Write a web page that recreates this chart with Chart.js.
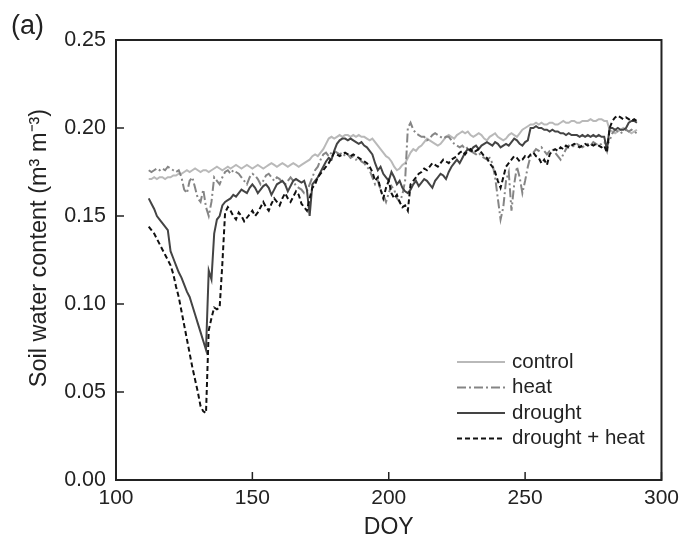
<!DOCTYPE html>
<html>
<head>
<meta charset="utf-8">
<script src="https://cdn.jsdelivr.net/npm/chart.js@4"></script>
<style>
  html, body { margin: 0; padding: 0; background: #fff; }
  #wrap { width: 685px; height: 555px; }
</style>
</head>
<body>
<div id="wrap"><canvas id="swc"></canvas></div>
<script>
// soil water content, one value per day starting at DOY 112
var firstDoy = 112;

var control = [
  .171,.171,.172,.171,.172,.172,.171,.172,.172,.173,
  .173,.174,.174,.175,.176,.175,.176,.177,.176,.175,
  .176,.176,.175,.176,.177,.178,.177,.176,.177,.178,
  .177,.178,.179,.178,.177,.178,.179,.178,.177,.178,
  .179,.178,.177,.178,.179,.180,.179,.178,.179,.180,
  .179,.178,.179,.180,.179,.178,.179,.180,.181,.182,
  .184,.185,.184,.186,.188,.191,.194,.195,.194,.195,
  .196,.195,.196,.196,.195,.196,.195,.196,.195,.195,
  .194,.193,.194,.192,.190,.188,.186,.184,.183,.181,
  .178,.176,.177,.179,.180,.183,.186,.188,.187,.189,
  .190,.192,.194,.193,.192,.191,.190,.191,.193,.195,
  .196,.195,.194,.196,.197,.198,.197,.198,.196,.195,
  .196,.197,.196,.194,.193,.195,.196,.197,.195,.194,
  .193,.194,.196,.197,.196,.195,.197,.199,.200,.201,
  .202,.202,.203,.202,.203,.202,.202,.203,.203,.202,
  .202,.203,.204,.203,.203,.204,.204,.203,.203,.204,
  .204,.204,.205,.204,.204,.205,.205,.204,.204,.199,
  .198,.197,.198,.199,.200,.199,.198,.197,.198,.199
];

var heat = [
  .176,.175,.176,.177,.176,.177,.176,.178,.177,.176,
  .175,.176,.172,.165,.163,.170,.172,.166,.160,.158,
  .165,.155,.150,.158,.172,.170,.168,.172,.175,.176,
  .174,.176,.175,.174,.172,.170,.168,.172,.174,.173,
  .171,.168,.170,.173,.174,.172,.170,.172,.171,.169,
  .168,.170,.172,.170,.167,.166,.165,.163,.164,.168,
  .172,.176,.178,.182,.185,.186,.184,.186,.187,.186,
  .185,.186,.184,.185,.183,.184,.182,.183,.181,.180,
  .178,.176,.172,.168,.170,.165,.162,.158,.163,.167,
  .165,.160,.158,.162,.170,.200,.203,.199,.197,.196,
  .195,.195,.193,.194,.196,.197,.196,.195,.194,.195,
  .195,.193,.191,.190,.189,.190,.188,.189,.187,.186,
  .185,.186,.184,.183,.182,.183,.180,.172,.160,.148,
  .155,.170,.175,.153,.168,.178,.172,.163,.170,.178,
  .184,.186,.188,.187,.189,.187,.185,.187,.188,.186,
  .184,.182,.185,.188,.190,.189,.190,.191,.190,.189,
  .190,.191,.190,.192,.191,.190,.191,.192,.190,.193,
  .197,.199,.198,.197,.198,.199,.198,.199,.198,.197
];

var drought = [
  .160,.157,.154,.150,.148,.146,.144,.142,.130,.126,
  .122,.118,.115,.111,.107,.104,.099,.094,.089,.084,
  .079,.074,.119,.114,.140,.148,.150,.156,.158,.159,
  .160,.162,.161,.163,.165,.164,.163,.166,.168,.166,
  .163,.165,.167,.168,.166,.162,.165,.168,.169,.170,
  .168,.164,.167,.170,.171,.170,.169,.170,.165,.150,
  .168,.170,.172,.175,.178,.181,.183,.182,.187,.191,
  .193,.194,.194,.193,.194,.193,.192,.191,.192,.190,
  .189,.187,.185,.180,.176,.178,.174,.172,.170,.175,
  .172,.168,.170,.166,.164,.163,.165,.168,.170,.167,
  .169,.171,.170,.168,.166,.170,.172,.174,.173,.171,
  .175,.178,.180,.182,.180,.183,.186,.188,.187,.189,
  .190,.188,.190,.191,.192,.191,.190,.192,.191,.189,
  .190,.191,.190,.192,.194,.193,.191,.190,.192,.193,
  .200,.200,.201,.200,.200,.199,.199,.198,.199,.198,
  .198,.197,.197,.196,.197,.196,.196,.196,.195,.196,
  .195,.196,.195,.196,.195,.196,.195,.195,.188,.200,
  .200,.199,.200,.199,.199,.200,.203,.204,.204,.203
];

var droughtHeat = [
  .144,.142,.140,.137,.134,.131,.128,.125,.122,.117,
  .110,.104,.096,.088,.080,.072,.064,.057,.050,.042,
  .039,.038,.085,.092,.098,.097,.098,.123,.152,.155,
  .153,.150,.148,.152,.150,.147,.149,.151,.153,.150,
  .152,.155,.158,.155,.153,.157,.160,.158,.156,.160,
  .163,.160,.158,.161,.164,.162,.157,.155,.153,.160,
  .166,.168,.172,.174,.176,.178,.180,.183,.186,.185,
  .184,.185,.186,.185,.184,.185,.184,.183,.182,.181,
  .180,.178,.175,.170,.172,.165,.160,.166,.170,.163,
  .160,.162,.158,.155,.156,.153,.168,.170,.172,.174,
  .175,.177,.176,.178,.180,.179,.178,.180,.182,.181,
  .180,.182,.183,.184,.186,.187,.185,.187,.188,.186,
  .187,.188,.186,.184,.183,.180,.178,.175,.170,.166,
  .172,.178,.180,.182,.184,.183,.181,.182,.184,.183,
  .185,.186,.184,.183,.180,.182,.179,.185,.187,.188,
  .187,.189,.188,.190,.189,.190,.191,.190,.189,.190,
  .191,.190,.191,.190,.191,.190,.189,.190,.186,.200,
  .204,.206,.207,.206,.205,.206,.205,.204,.205,.204
];

var xTicks = [100, 150, 200, 250, 300];
var yTicks = [0, 0.05, 0.10, 0.15, 0.20, 0.25];

function toPoints(arr) {
    return arr.map(function (v, i) { return { x: firstDoy + i, y: v }; });
}

var FONT = "'Liberation Sans', Arial, sans-serif";

// frame, inward ticks, axis titles, panel label and legend
var decorations = {
    id: 'decorations',
    afterDatasetsDraw: function (chart) {
        var ctx = chart.ctx;
        var a = chart.chartArea;
        var sx = chart.scales.x, sy = chart.scales.y;
        ctx.save();
        ctx.strokeStyle = '#222';
        ctx.lineWidth = 2;
        ctx.strokeRect(a.left, a.top, a.right - a.left, a.bottom - a.top);
        ctx.lineWidth = 1.5;
        ctx.beginPath();
        xTicks.forEach(function (t) {
            var px = sx.getPixelForValue(t);
            ctx.moveTo(px, a.bottom);
            ctx.lineTo(px, a.bottom - 8);
        });
        yTicks.forEach(function (t) {
            var py = sy.getPixelForValue(t);
            ctx.moveTo(a.left, py);
            ctx.lineTo(a.left + 8, py);
        });
        ctx.stroke();

        ctx.fillStyle = '#222';
        ctx.font = '23px ' + FONT;
        ctx.textAlign = 'center';
        ctx.textBaseline = 'alphabetic';
        ctx.fillText('DOY', (a.left + a.right) / 2, 534);

        ctx.save();
        ctx.translate(46, 248);
        ctx.rotate(-Math.PI / 2);
        ctx.font = '23.5px ' + FONT;
        ctx.fillText('Soil water content (m\u00B3 m\u207B\u00B3)', 0, 0);
        ctx.restore();

        ctx.font = '27px ' + FONT;
        ctx.textAlign = 'left';
        ctx.fillText('(a)', 11, 34);

        // legend
        ctx.font = '20.5px ' + FONT;
        ctx.textBaseline = 'middle';
        var rowY = 362;
        chart.data.datasets.forEach(function (ds) {
            ctx.beginPath();
            ctx.strokeStyle = ds.borderColor;
            ctx.lineWidth = ds.borderWidth;
            ctx.setLineDash(ds.borderDash || []);
            ctx.moveTo(457, rowY);
            ctx.lineTo(505, rowY);
            ctx.stroke();
            ctx.setLineDash([]);
            ctx.fillStyle = '#222';
            ctx.fillText(ds.label, 512, rowY);
            rowY += 25.5;
        });
        ctx.restore();
    }
};

var chart = new Chart(document.getElementById('swc'), {
    type: 'line',
    data: {
        datasets: [
            { label: 'control', data: toPoints(control), borderColor: '#b9b9b9', borderWidth: 2, order: 3 },
            { label: 'heat', data: toPoints(heat), borderColor: '#858585', borderWidth: 2, borderDash: [9, 3, 2, 3], order: 2 },
            { label: 'drought', data: toPoints(drought), borderColor: '#444444', borderWidth: 2, order: 1 },
            { label: 'drought + heat', data: toPoints(droughtHeat), borderColor: '#111111', borderWidth: 2, borderDash: [5, 3], order: 0 }
        ]
    },
    options: {
        responsive: true,
        maintainAspectRatio: false,
        animation: false,
        elements: { point: { radius: 0 }, line: { tension: 0 } },
        layout: { padding: { top: 40, right: 19, left: 0, bottom: 0 } },
        plugins: { legend: { display: false }, tooltip: { enabled: false } },
        scales: {
            x: {
                type: 'linear', min: 100, max: 300,
                afterFit: function (s) { s.height = 75; },
                afterBuildTicks: function (s) { s.ticks = xTicks.map(function (v) { return { value: v }; }); },
                grid: { display: false, drawTicks: false },
                border: { display: false },
                ticks: { color: '#222', font: { family: FONT, size: 21 }, padding: 6, maxRotation: 0 }
            },
            y: {
                min: 0, max: 0.25,
                afterFit: function (s) { s.width = 116; },
                afterBuildTicks: function (s) { s.ticks = yTicks.map(function (v) { return { value: v }; }); },
                grid: { display: false, drawTicks: false },
                border: { display: false },
                ticks: { color: '#222', font: { family: FONT, size: 21.5 }, padding: 10,
                         callback: function (v) { return v.toFixed(2); } }
            }
        }
    },
    plugins: [decorations]
});
</script>
</body>
</html>
